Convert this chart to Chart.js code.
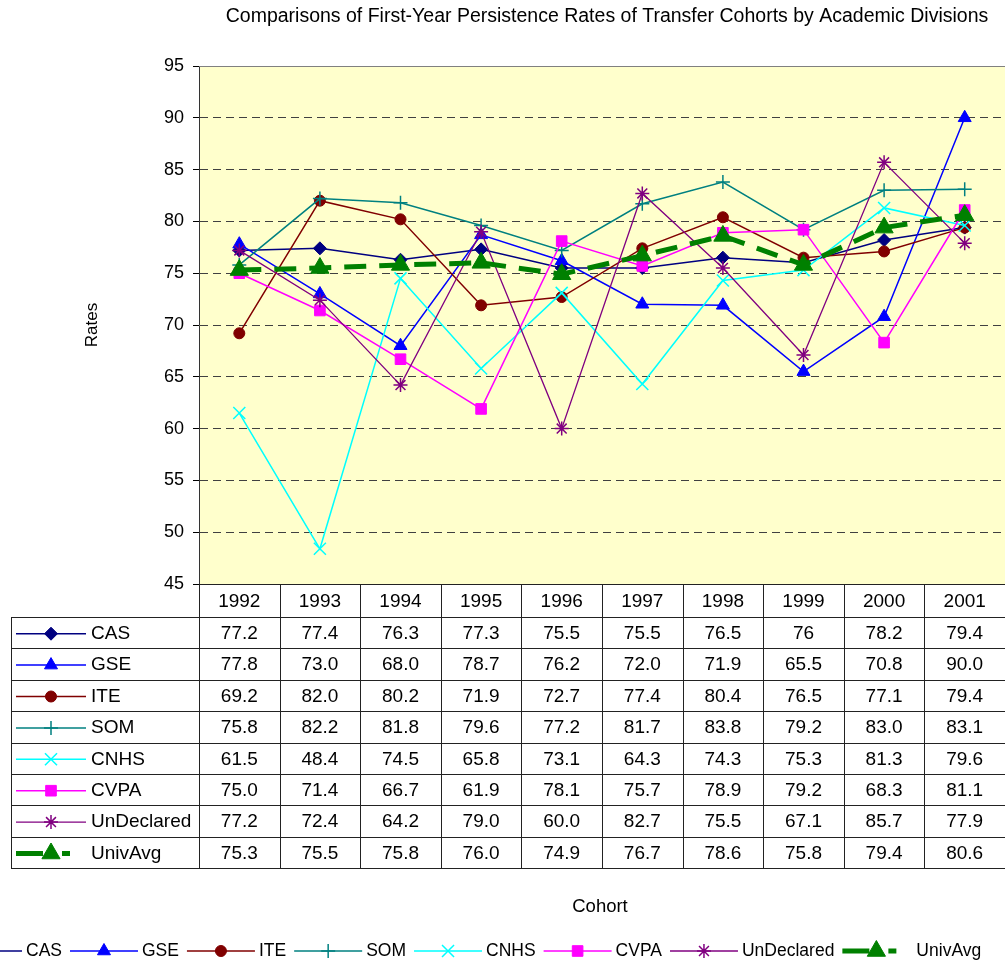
<!DOCTYPE html>
<html>
<head>
<meta charset="utf-8">
<script src="https://cdn.jsdelivr.net/npm/chart.js@4/dist/chart.umd.min.js"></script>
<style>
  html, body { margin: 0; padding: 0; background: #fff; }
  #wrap { width: 1005px; height: 963px; }
</style>
</head>
<body>
<div id="wrap"><canvas id="chart" width="1005" height="963"></canvas></div>
<script>
// cohort years (x categories / table header)
const years = ["1992", "1993", "1994", "1995", "1996", "1997", "1998", "1999", "2000", "2001"];

// persistence rates per division
const cas = [77.2, 77.4, 76.3, 77.3, 75.5, 75.5, 76.5, 76, 78.2, 79.4];
const gse = [77.8, 73.0, 68.0, 78.7, 76.2, 72.0, 71.9, 65.5, 70.8, 90.0];
const ite = [69.2, 82.0, 80.2, 71.9, 72.7, 77.4, 80.4, 76.5, 77.1, 79.4];
const som = [75.8, 82.2, 81.8, 79.6, 77.2, 81.7, 83.8, 79.2, 83.0, 83.1];
const cnhs = [61.5, 48.4, 74.5, 65.8, 73.1, 64.3, 74.3, 75.3, 81.3, 79.6];
const cvpa = [75.0, 71.4, 66.7, 61.9, 78.1, 75.7, 78.9, 79.2, 68.3, 81.1];
const undeclared = [77.2, 72.4, 64.2, 79.0, 60.0, 82.7, 75.5, 67.1, 85.7, 77.9];
const univAvg = [75.3, 75.5, 75.8, 76.0, 74.9, 76.7, 78.6, 75.8, 79.4, 80.6];

const seriesNames = ["CAS", "GSE", "ITE", "SOM", "CNHS", "CVPA", "UnDeclared", "UnivAvg"];
const seriesData = [cas, gse, ite, som, cnhs, cvpa, undeclared, univAvg];

// y axis range / step
const yMin = 45, yMax = 95, yStep = 5;

// look of each series (Excel default palette)
const looks = [
  { color: "#000080", style: "rectRot", radius: 6.5, width: 1.5 },
  { color: "#0000ff", style: "triangle", radius: 7.5, width: 1.5 },
  { color: "#800000", style: "circle", radius: 5.5, width: 1.5 },
  { color: "#008080", style: "cross", radius: 7, width: 1.5 },
  { color: "#00ffff", style: "crossRot", radius: 8.5, width: 1.5 },
  { color: "#ff00ff", style: "rect", radius: 7.5, width: 1.5 },
  { color: "#800080", style: "star", radius: 7, width: 1.3 },
  { color: "#008000", style: "triangle", radius: 10.5, width: 5, dash: [22, 13] }
];

// the CAS row was typed "General" in the sheet, the rest with one decimal
function fmt(i, v) {
  return i === 0 ? String(v) : v.toFixed(1);
}

const FONT = "'Liberation Sans', Arial, sans-serif";
Chart.defaults.font.family = FONT;

function marker(ctx, look, x, y) {
  ctx.save();
  ctx.fillStyle = look.color;
  ctx.strokeStyle = look.color;
  ctx.lineWidth = look.style === "cross" || look.style === "crossRot" || look.style === "star" ? 1.5 : 1;
  ctx.setLineDash([]);
  Chart.helpers.drawPoint(ctx, { pointStyle: look.style, radius: look.radius, rotation: 0, borderWidth: ctx.lineWidth }, x, y);
  ctx.restore();
}

// line sample + marker, like the Excel legend keys
function legendKey(ctx, look, x0, len, y) {
  ctx.save();
  ctx.strokeStyle = look.color;
  ctx.lineWidth = look.width;
  if (look.dash) {
    ctx.setLineDash([27, 19, 8, 100]);
  }
  ctx.beginPath();
  ctx.moveTo(x0, y);
  ctx.lineTo(x0 + len, y);
  ctx.stroke();
  ctx.restore();
  marker(ctx, look, x0 + len / 2, y);
}

const sheetPlugin = {
  id: "sheet",
  beforeDraw(chart) {
    const { ctx, chartArea: a } = chart;
    ctx.save();
    ctx.fillStyle = "#ffffff";
    ctx.fillRect(0, 0, chart.width, chart.height);
    ctx.fillStyle = "#ffffcc";
    ctx.fillRect(a.left, a.top, a.right - a.left, a.bottom - a.top);
    ctx.restore();
  },
  afterDraw(chart) {
    const { ctx, chartArea: a } = chart;
    const xs = chart.scales.x;
    const colW = xs.getPixelForValue(1) - xs.getPixelForValue(0);

    ctx.save();
    // plot frame top
    ctx.strokeStyle = "#808080";
    ctx.lineWidth = 1;
    ctx.beginPath();
    ctx.moveTo(a.left, Math.round(a.top) + 0.5);
    ctx.lineTo(a.right, Math.round(a.top) + 0.5);
    ctx.stroke();

    // title
    ctx.fillStyle = "#000";
    ctx.font = "19.5px " + FONT;
    ctx.textAlign = "center";
    ctx.textBaseline = "middle";
    ctx.fillText("Comparisons of First-Year Persistence Rates of Transfer Cohorts by Academic Divisions", 607, 17);

    // data table
    const tTop = Math.round(a.bottom);
    const headH = 33;
    const rowH = 31.4;
    const tLeft = 11;
    const tBottom = tTop + headH + rowH * seriesNames.length;
    ctx.strokeStyle = "#222";
    ctx.lineWidth = 1;
    ctx.beginPath();
    ctx.moveTo(a.left, tTop + 0.5);
    ctx.lineTo(a.right, tTop + 0.5);
    for (let r = 0; r <= seriesNames.length; r++) {
      const y = Math.round(tTop + headH + r * rowH) + 0.5;
      ctx.moveTo(tLeft, y);
      ctx.lineTo(a.right, y);
    }
    for (let k = 0; k <= years.length; k++) {
      const x = Math.round(a.left + k * colW) + 0.5;
      ctx.moveTo(x, tTop);
      ctx.lineTo(x, Math.round(tBottom) + 0.5);
    }
    ctx.moveTo(tLeft + 0.5, tTop + headH);
    ctx.lineTo(tLeft + 0.5, Math.round(tBottom) + 0.5);
    ctx.stroke();

    ctx.font = "19px " + FONT;
    ctx.textAlign = "center";
    ctx.textBaseline = "middle";
    years.forEach((yr, j) => {
      ctx.fillText(yr, xs.getPixelForValue(j), tTop + headH / 2 + 1);
    });
    seriesNames.forEach((name, i) => {
      const yc = tTop + headH + rowH * i + rowH / 2 + 1;
      legendKey(ctx, looks[i], 16, 70, yc);
      ctx.fillStyle = "#000";
      ctx.font = "19px " + FONT;
      ctx.textAlign = "left";
      ctx.textBaseline = "middle";
      ctx.fillText(name, 91, yc);
      ctx.textAlign = "center";
      seriesData[i].forEach((v, j) => {
        ctx.fillText(fmt(i, v), xs.getPixelForValue(j), yc);
      });
    });

    // axis titles
    ctx.font = "18.5px " + FONT;
    ctx.fillStyle = "#000";
    ctx.textAlign = "center";
    ctx.textBaseline = "middle";
    ctx.fillText("Cohort", 600, 907);
    ctx.save();
    ctx.translate(92, (a.top + a.bottom) / 2);
    ctx.rotate(-Math.PI / 2);
    ctx.font = "17px " + FONT;
    ctx.fillText("Rates", 0, 0);
    ctx.restore();

    // bottom legend
    let lx = -46;
    const ly = 951;
    seriesNames.forEach((name, i) => {
      legendKey(ctx, looks[i], lx, 68, ly);
      ctx.fillStyle = "#000";
      ctx.font = "17.5px " + FONT;
      ctx.textAlign = "left";
      ctx.textBaseline = "middle";
      const tx = lx + 72 + (looks[i].dash ? 2 : 0);
      ctx.fillText(name, tx, ly);
      lx = tx + ctx.measureText(name).width + 8;
    });
    ctx.restore();
  }
};

const datasets = seriesNames.map((name, i) => {
  const lk = looks[i];
  return {
    label: name,
    data: seriesData[i],
    borderColor: lk.color,
    backgroundColor: lk.color,
    borderWidth: lk.width,
    borderDash: lk.dash || [],
    pointStyle: lk.style,
    pointRadius: lk.radius,
    pointBorderWidth: lk.style === "cross" || lk.style === "crossRot" || lk.style === "star" ? 1.5 : 1,
    pointBackgroundColor: lk.color,
    pointBorderColor: lk.color,
    tension: 0,
    fill: false,
    order: seriesNames.length - i
  };
});

new Chart(document.getElementById("chart"), {
  type: "line",
  data: { labels: years, datasets: datasets },
  options: {
    responsive: false,
    devicePixelRatio: 1,
    animation: false,
    layout: {
      autoPadding: false,
      padding: { left: 0, top: 66, right: 0, bottom: 379 }
    },
    plugins: {
      legend: { display: false },
      title: { display: false },
      tooltip: { enabled: false }
    },
    scales: {
      x: { type: "category", display: false, offset: true },
      y: {
        min: yMin,
        max: yMax,
        ticks: { stepSize: yStep, color: "#000", font: { size: 18 }, padding: 9 },
        grid: {
          color: (c) => (c.tick && (c.tick.value === yMin || c.tick.value === yMax) ? "rgba(0,0,0,0)" : "#404040"),
          tickColor: "#000",
          tickLength: 6,
          lineWidth: 1
        },
        border: { color: "#333", width: 1, dash: [8, 5] },
        afterFit(axis) { axis.width = 199; }
      }
    }
  },
  plugins: [sheetPlugin]
});
</script>
</body>
</html>
